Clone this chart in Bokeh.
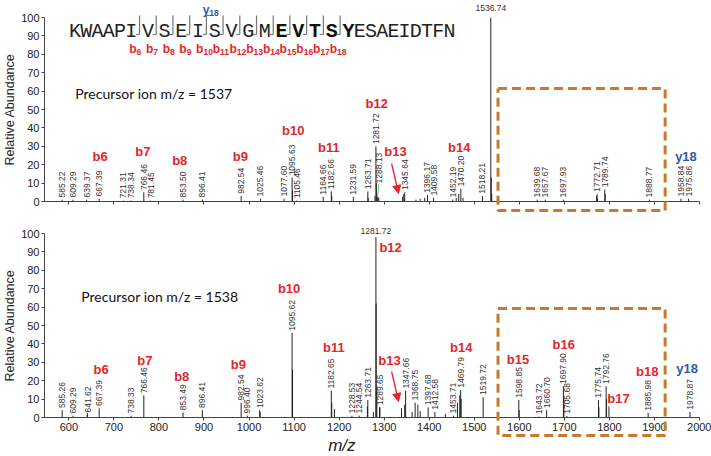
import math
from bokeh.plotting import figure
from bokeh.layouts import column
from bokeh.models import Range1d, FixedTicker, Arrow, NormalHead
from bokeh.core.properties import value
from bokeh.embed import file_html
from bokeh.resources import INLINE

# ---------------- data ----------------
sequence = "KWAAPIVSEISVGMEVTSYESAEIDTFN"
b_ion_numbers = [6, 7, 8, 9, 10, 11, 12, 13, 14, 15, 16, 17, 18]
y_ion_number = 18
bold_residues = [15, 16, 17, 18, 19]  # 1-based: E V T S Y

top_peak_mz = [585.22, 609.29, 639.37, 667.39, 721.31, 738.34, 766.46, 781.45, 853.50, 896.41,
               982.54, 1025.46, 1077.60, 1095.63, 1105.46, 1164.66, 1182.66, 1231.59, 1263.71,
               1281.72, 1288.13, 1345.64, 1396.17, 1409.58, 1452.19, 1470.20, 1518.21, 1536.74,
               1639.68, 1657.67, 1697.93, 1772.71, 1789.74, 1888.77, 1958.84, 1975.86]
top_peak_int = [1.0, 1.0, 1.0, 1.5, 0.5, 0.5, 5.0, 0.5, 1.0, 1.0,
                3.0, 1.5, 1.5, 13.0, 0.5, 2.5, 5.5, 2.5, 5.5,
                30.0, 2.0, 5.0, 3.5, 2.0, 1.0, 7.0, 3.0, 100.0,
                1.0, 1.0, 1.0, 4.0, 6.5, 1.0, 1.5, 1.5]
top_minor_mz = [1096.6, 1183.7, 1264.7, 1279.7, 1282.7, 1284.2, 1286.0, 1341.0, 1343.5, 1370.5,
                1380.0, 1390.0, 1460.0, 1465.5, 1475.0, 1537.74, 1538.7, 1771.7, 1773.7, 1790.7]
top_minor_int = [6.0, 3.0, 2.0, 3.0, 10.0, 3.0, 2.5, 2.5, 4.0, 1.0,
                 1.5, 2.0, 2.0, 4.0, 2.0, 13.0, 4.0, 3.0, 1.5, 4.0]
top_label_raised = {"1288.13": 9.8}

bot_peak_mz = [585.26, 609.29, 641.62, 667.39, 738.33, 766.46, 853.49, 896.41, 982.54, 996.40,
               1023.62, 1095.62, 1182.65, 1228.53, 1244.54, 1263.71, 1281.72, 1289.65, 1347.66,
               1368.75, 1397.68, 1412.58, 1453.71, 1469.79, 1519.72, 1598.85, 1643.72, 1660.70,
               1697.90, 1705.68, 1775.74, 1792.76, 1885.98, 1978.87]
bot_peak_int = [4.0, 1.0, 1.5, 5.0, 1.0, 12.0, 2.7, 4.0, 8.0, 1.0,
                4.0, 46.0, 14.5, 1.0, 1.0, 9.5, 98.0, 5.5, 14.5,
                8.0, 5.5, 3.0, 1.0, 15.0, 11.0, 9.5, 0.5, 4.0,
                17.0, 0.8, 9.5, 17.0, 2.5, 3.0]
bot_minor_mz = [641.0, 1024.6, 1096.6, 1183.7, 1189.6, 1262.7, 1276.0, 1282.2, 1283.7, 1290.6,
                1338.5, 1345.6, 1362.0, 1374.7, 1380.0, 1436.0, 1462.7, 1467.8, 1470.8, 1599.8,
                1698.9, 1776.7, 1793.7, 1799.0]
bot_minor_int = [2.5, 3.0, 26.0, 8.0, 4.5, 6.0, 3.0, 62.0, 17.0, 5.5,
                 5.0, 7.0, 3.0, 7.0, 3.5, 2.0, 8.0, 12.0, 10.0, 4.0,
                 10.0, 5.5, 10.0, 6.0]

top_ions = ["b6", "b7", "b8", "b9", "b10", "b11", "b12", "b13", "b14", "y18"]
top_ion_mz = [669.6, 764.5, 846.2, 980.9, 1098.0, 1177.4, 1283.4, 1325.3, 1466.6, 1970.0]
top_ion_y = [24.5, 27.2, 22.3, 24.5, 38.6, 29.3, 53.3, 27.2, 29.3, 24.5]

bot_ions = ["b6", "b7", "b8", "b9", "b10", "b11", "b12", "b13", "b14", "b15", "b16", "b17", "b18", "y18"]
bot_ion_mz = [671.8, 768.9, 850.6, 976.5, 1089.0, 1188.4, 1314.3, 1312.0, 1471.0, 1596.9,
              1698.5, 1820.0, 1884.0, 1972.3]
bot_ion_y = [26.1, 31.0, 22.3, 28.8, 70.1, 38.0, 92.4, 31.0, 38.0, 31.5, 39.7, 10.3, 25.0, 26.6]

precursor_top = 1537
precursor_bot = 1538

x_ticks = list(range(600, 2001, 100))
y_ticks = list(range(0, 101, 10))

# ---------------- styling / layout helpers ----------------
RED = "#e3262b"
BLUE = "#2a5ba8"
ORANGE = "#c97a2d"
SANS = "Liberation Sans"
MONO = "Liberation Mono"

# reference-layout pixel -> data helpers (annotation placement only)
def mz_at(px):
    return 600.0 + (px - 65.5) / 0.4529

def ty(py):  # top panel
    return (201.0 - py) / 1.84

def by(py):  # bottom panel
    return (417.0 - py) / 1.84


def make_fig(height, border_top, border_bottom):
    p = figure(width=711, height=height, x_range=Range1d(546, 2000), y_range=Range1d(0, 100),
               output_backend="svg", toolbar_location=None,
               min_border_left=41, min_border_right=12,
               min_border_top=border_top, min_border_bottom=border_bottom)
    p.grid.visible = False
    p.outline_line_color = None
    p.yaxis.ticker = FixedTicker(ticks=y_ticks)
    p.xaxis.ticker = FixedTicker(ticks=x_ticks)
    for ax in (p.xaxis, p.yaxis):
        ax.axis_line_color = "#444"
        ax.major_tick_line_color = "#444"
        ax.major_tick_in = 0
        ax.major_tick_out = 3
        ax.minor_tick_line_color = None
        ax.major_label_text_font = SANS
        ax.major_label_text_font_size = "11px"
        ax.major_label_text_color = "#222"
        ax.major_label_standoff = 2
    p.yaxis.axis_label = "Relative Abundance"
    p.yaxis.axis_label_text_font = SANS
    p.yaxis.axis_label_text_font_size = "12.5px"
    p.yaxis.axis_label_text_font_style = "normal"
    p.yaxis.axis_label_text_color = "#222"
    p.yaxis.axis_label_standoff = 1
    return p


def draw_panel(p, mz, inten, minor_mz, minor_int, ions, ion_mz, ion_y, raised, top_lift):
    p.segment(x0=minor_mz, y0=[0] * len(minor_mz), x1=minor_mz, y1=minor_int,
              line_color="#222", line_width=1)
    p.segment(x0=mz, y0=[0] * len(mz), x1=mz, y1=inten, line_color="#222", line_width=1)
    rx, ry, rt = [], [], []
    hx, hy, ht = [], [], []
    for m, i in zip(mz, inten):
        lab = f"{m:.2f}"
        if i >= 90:
            hx.append(m); hy.append(i + top_lift); ht.append(lab)
        else:
            rx.append(m); ry.append(raised.get(lab, i + 1.2)); rt.append(lab)
            if lab in raised:
                p.segment(x0=[m - 3], y0=[i], x1=[m], y1=[raised[lab] - 0.3],
                          line_color="#3fae49", line_width=0.8, level="overlay")
    p.text(x=rx, y=ry, text=rt, angle=math.pi / 2, text_align="left", text_baseline="middle",
           text_font=value(SANS), text_font_size="8.5px", text_color="#333", level="overlay")
    p.text(x=hx, y=hy, text=ht, text_align="center", text_baseline="bottom",
           text_font=value(SANS), text_font_size="8.5px", text_color="#333", level="overlay")
    cols = [BLUE if s.startswith("y") else RED for s in ions]
    p.text(x=ion_mz, y=ion_y, text=ions, text_color=cols, text_align="center",
           text_baseline="middle", text_font=value(SANS), text_font_size="13px",
           text_font_style="bold", level="overlay")


# ---------------- top panel ----------------
top = make_fig(215, 17, 14)
top.xaxis.ticker = FixedTicker(ticks=[], minor_ticks=x_ticks)
top.xaxis.minor_tick_line_color = "#444"
top.xaxis.minor_tick_in = 0
top.xaxis.minor_tick_out = 3
draw_panel(top, top_peak_mz, top_peak_int, top_minor_mz, top_minor_int,
           top_ions, top_ion_mz, top_ion_y, top_label_raised, 3.8)

top.text(x=[mz_at(72)], y=[ty(93)], text=[f"Precursor ion m/z = {precursor_top}"],
         text_align="left", text_baseline="middle", text_font=value("Lato"),
         text_font_size="14px", text_color="#111", level="overlay")

# sequence with fragmentation marks
n = len(sequence)
cut_after = set(b_ion_numbers)
centers = [71.7]
for i in range(1, n):
    step = 11.3 + (5.5 if i in cut_after else 0.0)
    centers.append(centers[-1] + step)
norm_x, norm_t, bold_x, bold_t = [], [], [], []
for i, ch in enumerate(sequence):
    if (i + 1) in bold_residues:
        bold_x.append(mz_at(centers[i])); bold_t.append(ch)
    else:
        norm_x.append(mz_at(centers[i])); norm_t.append(ch)
seq_base = ty(31)
top.text(x=norm_x, y=[seq_base] * len(norm_x), text=norm_t, text_align="center",
         text_baseline="alphabetic", text_font=value(MONO), text_font_size="20px",
         text_color="#222", level="overlay")
top.text(x=bold_x, y=[seq_base] * len(bold_x), text=bold_t, text_align="center",
         text_baseline="alphabetic", text_font=value(MONO), text_font_size="20px",
         text_font_style="bold", text_color="#111", level="overlay")

sep_px = {k: (centers[k - 1] + centers[k]) / 2 for k in b_ion_numbers}
y_cut = n - y_ion_number
sep_px.setdefault(y_cut, (centers[y_cut - 1] + centers[y_cut]) / 2)
vx = [mz_at(sep_px[k]) for k in b_ion_numbers]
top.segment(x0=vx, y0=[ty(15)] * len(vx), x1=vx, y1=[ty(34)] * len(vx),
            line_color="#777", line_width=1.2, level="overlay")
hx0 = [mz_at(sep_px[k] - 3.5) for k in b_ion_numbers]
top.segment(x0=hx0, y0=[ty(34)] * len(vx), x1=vx, y1=[ty(34)] * len(vx),
            line_color="#777", line_width=1.2, level="overlay")
top.segment(x0=[mz_at(sep_px[y_cut])], y0=[ty(15)], x1=[mz_at(sep_px[y_cut] + 3.5)], y1=[ty(15)],
            line_color="#777", line_width=1.2, level="overlay")

# b labels under the sequence, y label above
bx = [mz_at(sep_px[k] - 3.0) for k in b_ion_numbers]
top.text(x=bx, y=[ty(48)] * len(bx), text=["b"] * len(bx), text_align="right",
         text_baseline="alphabetic", text_font=value(SANS), text_font_size="12px",
         text_font_style="bold", text_color=RED, level="overlay")
top.text(x=bx, y=[ty(51)] * len(bx), text=[str(k) for k in b_ion_numbers], text_align="left",
         text_baseline="alphabetic", text_font=value(SANS), text_font_size="8.5px",
         text_font_style="bold", text_color=RED, level="overlay")
top.text(x=[mz_at(sep_px[y_cut] + 3)], y=[ty(9.5)], text=["y"], text_align="right",
         text_baseline="alphabetic", text_font=value(SANS), text_font_size="12px",
         text_font_style="bold", text_color=BLUE, level="overlay")
top.text(x=[mz_at(sep_px[y_cut] + 3)], y=[ty(12.5)], text=[str(y_ion_number)], text_align="left",
         text_baseline="alphabetic", text_font=value(SANS), text_font_size="8.5px",
         text_font_style="bold", text_color=BLUE, level="overlay")

# ---------------- bottom panel ----------------
bot = make_fig(241, 18, 39)
draw_panel(bot, bot_peak_mz, bot_peak_int, bot_minor_mz, bot_minor_int,
           bot_ions, bot_ion_mz, bot_ion_y, {}, 1.5)
bot.text(x=[mz_at(78)], y=[by(296)], text=[f"Precursor ion m/z = {precursor_bot}"],
         text_align="left", text_baseline="middle", text_font=value("Lato"),
         text_font_size="14px", text_color="#111", level="overlay")
bot.text(x=[mz_at(340)], y=[by(445)], text=["m/z"], text_align="center", text_baseline="middle",
         text_font=value(SANS), text_font_size="17px", text_font_style="italic",
         text_color="#222", level="overlay")

# arrows to b13
for p, f, y0, y1 in ((top, ty, 163, 193), (bot, by, 371, 401)):
    p.add_layout(Arrow(end=NormalHead(size=8, fill_color=RED, line_color=RED),
                       x_start=mz_at(390), y_start=f(y0), x_end=mz_at(397), y_end=f(y1),
                       line_color=RED, line_width=1.3))

# dashed highlight boxes
bx0, bx1 = mz_at(497), mz_at(665)
top.line(x=[bx0, bx1, bx1, bx0, bx0], y=[ty(88), ty(88), ty(210), ty(210), ty(88)],
         line_color=ORANGE, line_width=3, line_dash="9 5", level="overlay")
bot.line(x=[bx0, bx1, bx1, bx0, bx0], y=[by(308), by(308), by(435), by(435), by(308)],
         line_color=ORANGE, line_width=3, line_dash="9 5", level="overlay")

layout = column(top, bot)
open("out.html", "w").write(file_html(layout, INLINE))
